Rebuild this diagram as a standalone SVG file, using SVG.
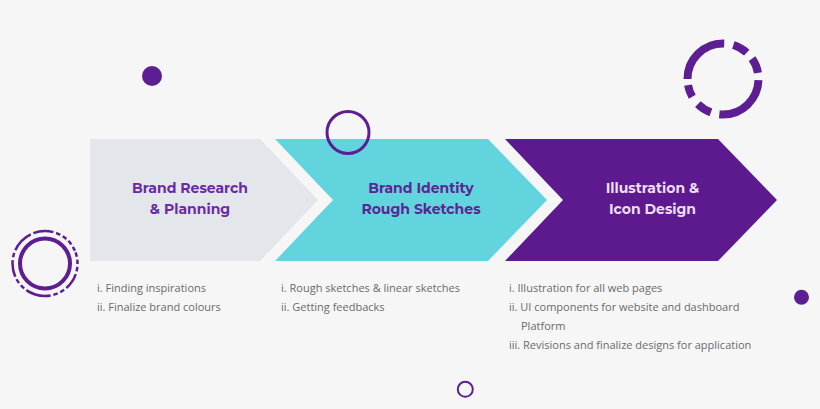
<svg xmlns="http://www.w3.org/2000/svg" width="820" height="409" viewBox="0 0 820 409">
<style>
.title{font-family:"Montserrat","Open Sans","Liberation Sans",sans-serif;font-weight:700;font-size:14px;text-anchor:middle}
.item{font-family:"Open Sans","Liberation Sans",sans-serif;font-size:11px;fill:#6a6a6a}
.ring{fill:none;stroke:#5d1e94}
.dot{fill:#5d1e94}
</style>
<rect width="820" height="409" fill="#f6f6f7"/>
<g id="decor">
  <circle class="dot" cx="152" cy="76" r="10"/>
  <circle class="dot" cx="801.5" cy="297.3" r="7.5"/>
  <circle class="ring" cx="465.3" cy="389.3" r="7.5" stroke-width="2"/>
  <circle class="ring" cx="45" cy="263.5" r="25" stroke-width="4"/>
  <circle class="ring" cx="45" cy="263.5" r="32.5" stroke-width="2.5" pathLength="360" stroke-dasharray="8 5 8 5 8 5 30 5 8 5 8 5 45 5 8 5 8 5 30 5 8 5 40 5 36 5 8 5 8 5 8 5 8 3" stroke-dashoffset="20"/>
  <circle class="ring" cx="723" cy="79" r="35.5" stroke-width="8" pathLength="360" stroke-dasharray="94 14 25 15 20 10 92 15 25 13 25 12" stroke-dashoffset="-2"/>
</g>
<g id="connectors"></g>
<g id="step1">
  <polygon points="90,139 260,139 318,200 260,261 90,261" fill="#e3e6ea"/>
  <text class="title" x="190" y="193" fill="#6a2aa3">Brand Research</text>
  <text class="title" x="190" y="214" fill="#6a2aa3">&amp; Planning</text>
</g>
<g id="step2">
  <polygon points="275,139 488,139 547,200 488,261 275,261 333,200" fill="#62d4dd"/>
  <text class="title" x="421" y="193" fill="#5a2594">Brand Identity</text>
  <text class="title" x="421" y="214" fill="#5a2594">Rough Sketches</text>
</g>
<g id="circle-top">
  <circle class="ring" cx="348" cy="132.5" r="21" stroke-width="3"/>
</g>
<g id="step3">
  <polygon points="505,139 718,139 777,200 718,261 505,261 563,200" fill="#5d1a8f"/>
  <text class="title" x="652.5" y="193" fill="#ecdff4">Illustration &amp;</text>
  <text class="title" x="652.5" y="214" fill="#ecdff4">Icon Design</text>
</g>
<g id="list1">
  <text class="item" x="97" y="292">i. Finding inspirations</text>
  <text class="item" x="97" y="311">ii. Finalize brand colours</text>
</g>
<g id="list2">
  <text class="item" x="281" y="292">i. Rough sketches &amp; linear sketches</text>
  <text class="item" x="281" y="311">ii. Getting feedbacks</text>
</g>
<g id="list3">
  <text class="item" x="509" y="292">i. Illustration for all web pages</text>
  <text class="item" x="509" y="311">ii. UI components for website and dashboard</text>
  <text class="item" x="521" y="330">Platform</text>
  <text class="item" x="509" y="349">iii. Revisions and finalize designs for application</text>
</g>
</svg>
